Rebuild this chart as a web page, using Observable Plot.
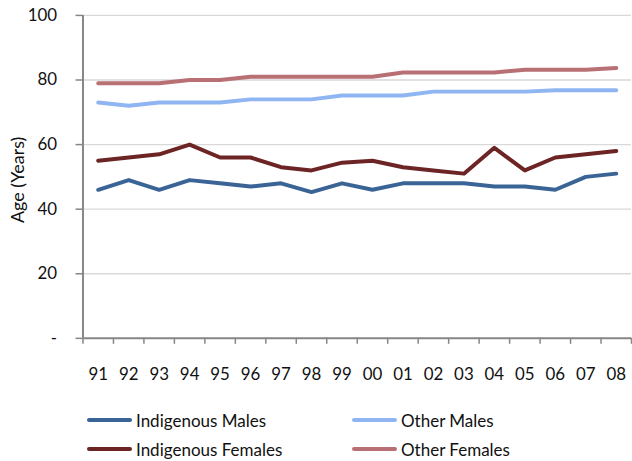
<!DOCTYPE html>
<html><head><meta charset="utf-8">
<script src="https://cdn.jsdelivr.net/npm/d3@7"></script>
<script src="https://cdn.jsdelivr.net/npm/@observablehq/plot@0.6"></script>
<style>
html,body{margin:0;padding:0;background:#fff}
body{width:632px;height:461px;overflow:hidden;font-family:Lato,"Open Sans",sans-serif;position:relative}
#chart svg{display:block}
.legend{position:absolute;left:0;top:406px;width:632px;font-size:17px;color:#111}
.item{position:absolute;display:flex;align-items:center;height:28px;white-space:nowrap}
.sw{display:inline-block;width:45px;height:4px;border-radius:2px;margin-right:4px}
</style></head><body>
<div id="chart"></div>
<div class="legend" id="legend"></div>
<script>
const years = ["91","92","93","94","95","96","97","98","99","00","01","02","03","04","05","06","07","08"];
const seriesNames = ["Indigenous Males","Other Males","Indigenous Females","Other Females"];
const seriesColors = ["#3a6496","#8fb5f2","#6c2424","#b87074"];
const indigenousMales   = [46,49,46,49,48,47,48,45.3,48,46,48,48,48,47,47,46,50,51];
const otherMales        = [73,72,73,73,73,74,74,74,75.2,75.2,75.2,76.4,76.4,76.4,76.4,76.8,76.8,76.8];
const indigenousFemales = [55,56,57,60,56,56,53,52,54.4,55,53,52,51,59,52,56,57,58];
const otherFemales      = [79,79,79,80,80,81,81,81,81,81,82.3,82.3,82.3,82.3,83.2,83.2,83.2,83.7];
const yTicks = [0,20,40,60,80,100];
const yTitle = "Age (Years)";

const seriesValues = [indigenousMales, otherMales, indigenousFemales, otherFemales];
const rows = [];
seriesNames.forEach((s, k) => seriesValues[k].forEach((v, i) => rows.push({series: s, i, value: v})));

const idx = years.map((_, i) => i);
const bounds = d3.range(-0.5, years.length, 1);
const axisColor = "#868686";

const chart = Plot.plot({
  width: 636, height: 396,
  marginTop: 15, marginLeft: 83, marginRight: 1, marginBottom: 56,
  style: {fontFamily: "Lato, 'Open Sans', sans-serif", fontSize: "17px", color: "#111", background: "#fff"},
  x: {type: "linear", domain: [-0.5, years.length - 0.5], axis: null},
  y: {domain: [0, 100], axis: null},
  color: {domain: seriesNames, range: seriesColors},
  marks: [
    Plot.gridY(yTicks.filter(d => d > 0), {stroke: "#d9d9d9", strokeOpacity: 1, strokeWidth: 1.4}),
    Plot.axisY(yTicks, {tickSize: 7, tickPadding: 19, stroke: axisColor, strokeWidth: 1.5,
      tickFormat: d => d === 0 ? "-" : String(d), fontSize: 17, label: null}),
    Plot.axisX(bounds, {tickSize: 6, stroke: axisColor, strokeWidth: 1.5, tickFormat: () => "", label: null}),
    Plot.axisX(idx, {tickSize: 0, tickPadding: 30, tickFormat: i => years[i], fontSize: 17, label: null}),
    Plot.text([yTitle], {frameAnchor: "left", textAnchor: "middle", lineAnchor: "middle", rotate: -90, dx: -65, dy: 3, fontSize: 18, fill: "#111"}),
    Plot.ruleY([0], {stroke: axisColor, strokeWidth: 2}),
    Plot.ruleX([-0.5], {stroke: axisColor, strokeWidth: 2}),
    Plot.line(rows, {x: "i", y: "value", z: "series", stroke: "series", strokeWidth: 4,
      strokeLinecap: "round", strokeLinejoin: "round"})
  ]
});
document.getElementById("chart").append(chart);

const legend = document.getElementById("legend");
const legendPos = [[87, 0], [352, 0], [87, 29], [352, 29]];
seriesNames.forEach((s, k) => {
  const it = document.createElement("div");
  it.className = "item";
  it.style.left = legendPos[k][0] + "px";
  it.style.top = legendPos[k][1] + "px";
  const sw = document.createElement("span");
  sw.className = "sw"; sw.style.background = seriesColors[k];
  const t = document.createElement("span"); t.textContent = s;
  it.append(sw, t);
  legend.append(it);
});
</script>
</body></html>
